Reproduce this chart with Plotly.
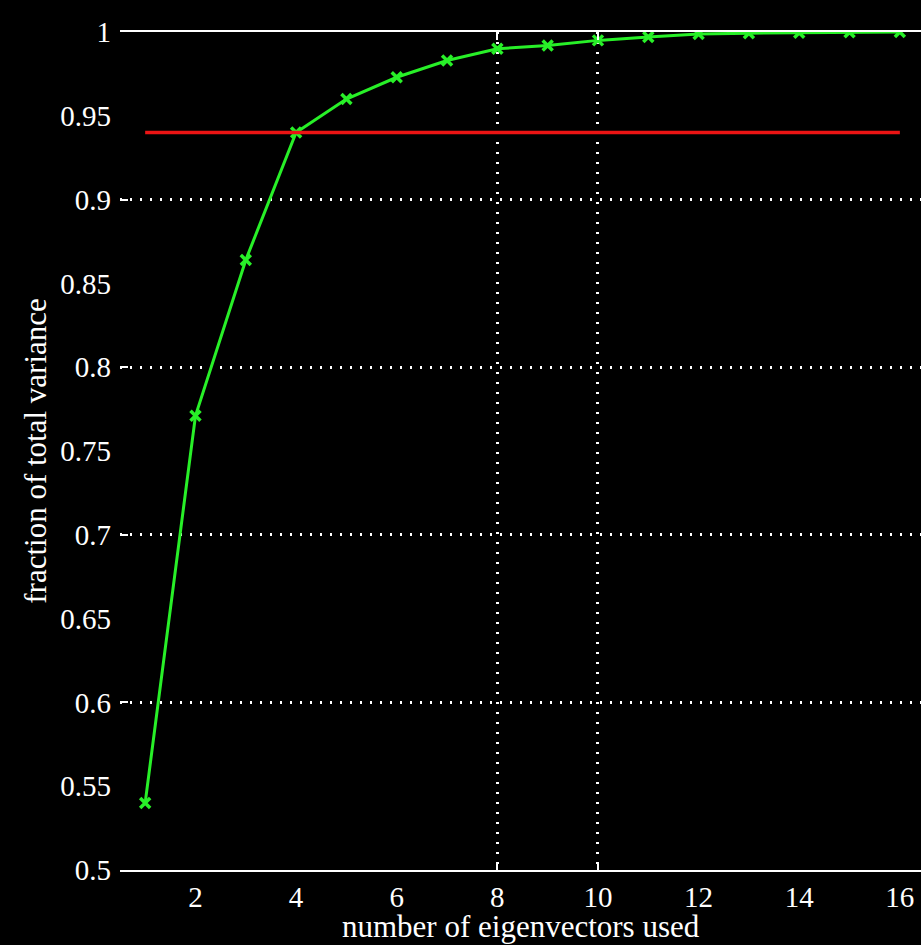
import plotly.graph_objects as go

# Cumulative fraction of variance explained by the leading eigenvectors
n_eigvecs = list(range(1, 17))
frac_variance = [0.540, 0.771, 0.864, 0.940, 0.960, 0.973, 0.983, 0.990,
                 0.992, 0.995, 0.997, 0.9988, 0.9993, 0.9995, 0.9998, 1.000]

# Threshold level drawn across the full range of eigenvector counts
threshold_x = [1, 16]
threshold_y = [0.94, 0.94]

y_tick_vals = [0.5, 0.55, 0.6, 0.65, 0.7, 0.75, 0.8, 0.85, 0.9, 0.95, 1.0]
y_tick_text = ["0.5", "0.55", "0.6", "0.65", "0.7", "0.75", "0.8", "0.85", "0.9", "0.95", "1"]
x_tick_vals = [2, 4, 6, 8, 10, 12, 14, 16]
x_grid_vals = [8, 10]
y_grid_vals = [0.6, 0.7, 0.8, 0.9]

x_title = "number of eigenvectors used"
y_title = "fraction of total variance"

font_family = "Liberation Serif, Times New Roman, serif"
tick_size = 29
title_size = 31

fig = go.Figure()
fig.add_trace(go.Scatter(
    x=threshold_x, y=threshold_y, mode="lines",
    line=dict(color="rgb(235,20,20)", width=3.5),
    xaxis="x2", yaxis="y2", hoverinfo="skip", showlegend=False,
))
fig.add_trace(go.Scatter(
    x=n_eigvecs, y=frac_variance, mode="lines+markers",
    line=dict(color="rgb(40,240,40)", width=3),
    marker=dict(symbol="x-thin-open", size=10,
                line=dict(color="rgb(40,240,40)", width=3.5)),
    showlegend=False,
))

fig.update_layout(
    width=921, height=945,
    margin=dict(l=120, r=0, t=32, b=75),
    paper_bgcolor="black", plot_bgcolor="black",
    font=dict(family=font_family, color="white", size=tick_size),
    xaxis=dict(
        range=[0.5, 16.42], tickvals=x_tick_vals, ticks="",
        showgrid=False, zeroline=False, automargin=False,
        showline=True, mirror=True, linecolor="white", linewidth=2,
        ticklabelstandoff=0,
        tickfont=dict(size=tick_size, family=font_family),
    ),
    yaxis=dict(
        range=[0.5, 1.0], tickvals=y_tick_vals, ticktext=y_tick_text,
        ticks="", showgrid=False, zeroline=False, showline=False,
        automargin=False, ticklabelstandoff=8,
        title=dict(text=y_title, standoff=4,
                   font=dict(size=title_size, family=font_family)),
        tickfont=dict(size=tick_size, family=font_family),
    ),
    xaxis2=dict(
        overlaying="x", matches="x", tickvals=x_grid_vals,
        showticklabels=False, ticks="inside", ticklen=8, tickwidth=2,
        tickcolor="white", mirror="ticks",
        showgrid=True, gridcolor="white", gridwidth=2.5, griddash="2px,8px",
        zeroline=False, showline=False,
    ),
    yaxis2=dict(
        overlaying="y", matches="y", tickvals=y_grid_vals,
        showticklabels=False, ticks="inside", ticklen=8, tickwidth=2,
        tickcolor="white",
        showgrid=True, gridcolor="white", gridwidth=2.5, griddash="2px,8px",
        zeroline=False, showline=False,
    ),
    annotations=[dict(
        text=x_title, xref="paper", yref="paper", x=0.5, y=-0.0895,
        xanchor="center", yanchor="bottom", showarrow=False, borderpad=0,
        font=dict(size=title_size, family=font_family, color="white"),
    )],
)

fig.write_html("out.html")
